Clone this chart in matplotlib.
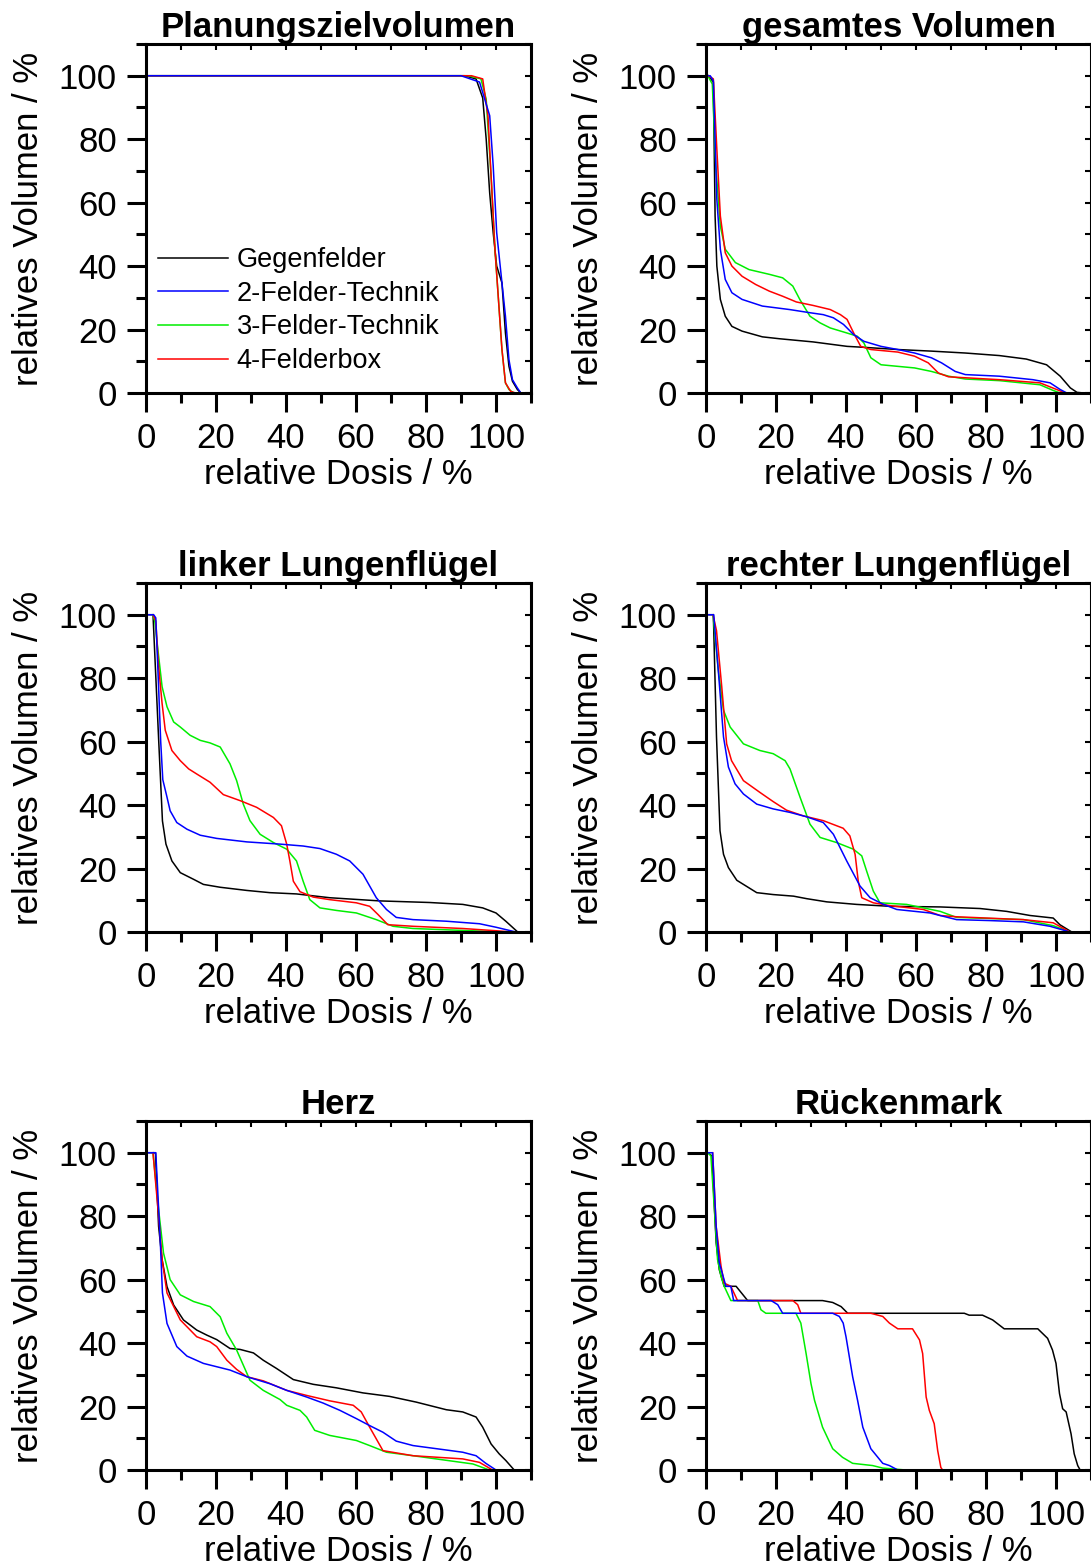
import matplotlib
matplotlib.use("Agg")
import matplotlib.pyplot as plt
from matplotlib.ticker import MultipleLocator, NullFormatter

plt.rcParams['font.family'] = ['Liberation Sans', 'DejaVu Sans']

## DATA (relative dose %, relative volume %) ##
labels = ["Gegenfelder", "2-Felder-Technik", "3-Felder-Technik", "4-Felderbox"]
colors = ["black", "blue", "#00ee00", "red"]
titles = ["Planungszielvolumen", "gesamtes Volumen", "linker Lungenflügel",
          "rechter Lungenflügel", "Herz", "Rückenmark"]

# Planungszielvolumen
ptv_gegen_d = [0, 91, 94.3, 96.2, 97.2, 98.2, 99.2, 100.2, 101.7, 102.7, 103.7, 104.7, 106.1, 107.1]
ptv_gegen_v = [100, 100, 99, 93, 80, 63, 50.5, 40, 34.7, 18.9, 8.4, 3.7, 1.1, 0]
ptv_2f_d = [0, 90, 95.3, 98.2, 99.2, 100.2, 101.2, 102.7, 103.7, 104.7, 106.1, 107.1]
ptv_2f_v = [100, 100, 98, 87.4, 71.6, 50.5, 40, 24.2, 10.5, 4.2, 1.6, 0]
ptv_3f_d = [0, 92, 95.7, 97.2, 98.7, 99.7, 100.7, 101.7, 102.7, 103.7, 105.1]
ptv_3f_v = [100, 100, 99, 92.6, 66.3, 45.3, 29.5, 13.7, 3.2, 1.1, 0]
ptv_4f_d = [0, 93, 96.2, 97.7, 98.7, 99.7, 100.7, 101.7, 102.7, 104.2, 105.6]
ptv_4f_v = [100, 100, 99, 87.4, 66.3, 45.3, 29.5, 13.7, 3.2, 0.5, 0]

# gesamtes Volumen
ges_gegen_d = [0.7, 2.1, 2.6, 3.1, 4.1, 5.5, 7.4, 10.3, 16.1, 21, 30.6, 40.3, 45.1, 54.8, 64.4,
               74.1, 83.8, 91.5, 97.3, 101.2, 104.1, 106, 108]
ges_gegen_v = [100, 98, 55.8, 40, 29.5, 24.2, 21, 19.5, 17.7, 17.1, 16.1, 14.7, 14.4, 13.7, 13.2,
               12.6, 11.8, 10.7, 8.9, 5.3, 1.6, 0.2, 0]
ges_2f_d = [0.7, 1.2, 2.1, 3.1, 4.1, 5.5, 7.4, 10.3, 16.1, 23.9, 29.7, 33.5, 36.4, 39.3, 42.2, 45.1,
            50, 54.8, 59.6, 64.4, 67.3, 71.2, 74.1, 83.8, 93.4, 98.3, 101.2, 103.1]
ges_2f_v = [100, 100, 98.4, 61, 45.3, 35.8, 31.6, 29.5, 27.4, 26.3, 25.3, 24.7, 23.7, 21.6, 18.4, 16.3,
            14.7, 13.7, 12.6, 11.1, 9.5, 6.8, 5.8, 5.3, 4.2, 3.2, 1.1, 0]
ges_3f_d = [0.5, 1.8, 2.8, 4.1, 5.5, 8.4, 12.3, 18.1, 21.9, 24.8, 26.8, 29.7, 32.6, 35.5, 40.3, 43.2,
            45.1, 47.1, 50, 54.8, 59.6, 64.4, 69.3, 74.1, 83.8, 95.4, 99.2, 101.2]
ges_3f_v = [100, 97.4, 71.6, 52.6, 45.3, 41.1, 38.9, 37.4, 36.3, 33.7, 29.5, 24.2, 22.1, 20.5, 18.9, 17.9,
            15.8, 11.1, 8.9, 8.4, 7.9, 6.8, 5.3, 4.4, 3.9, 2.6, 0.8, 0]
ges_4f_d = [0.7, 2.1, 3.1, 4.1, 5.5, 7.4, 10.3, 14.2, 18.1, 21.9, 25.8, 30.6, 35.5, 38.4, 40.3, 42.2,
            44.2, 47.1, 54.8, 59.6, 63.5, 66.4, 69.3, 83.8, 95.4, 100.2, 102.6]
ges_4f_v = [100, 99, 76.8, 55.8, 44.2, 40, 36.8, 34.2, 32.1, 30.5, 28.7, 27.6, 26.3, 24.7, 23.2, 18.9,
            14.7, 13.7, 12.9, 11.6, 9.5, 6.3, 5.1, 4.2, 3.2, 1.1, 0]

# linker Lungenfluegel
lli_gegen_d = [0.8, 2.0, 3.6, 4.7, 5.7, 7.4, 9.8, 13.6, 16.4, 21.2, 28.8, 35.4, 43, 52.5, 66.8, 81,
               90.5, 96.2, 100, 102.8, 106.2]
lli_gegen_v = [100, 100, 61, 35, 27.7, 22.4, 18.7, 16.6, 15, 14.1, 13.1, 12.4, 12, 10.8, 9.8, 9.3,
               8.7, 7.6, 6, 3.4, 0]
lli_2f_d = [0.8, 2.2, 2.8, 3.5, 4.2, 4.8, 6.0, 6.9, 8.8, 11.7, 15.5, 20.2, 28.8, 38.3, 44.9, 49.7,
            54.4, 58.2, 62, 65.8, 68.7, 71.5, 76.3, 85.8, 95.3, 100, 105.7]
lli_2f_v = [100, 100, 99, 80, 60, 48, 42.5, 38.2, 34.5, 32.4, 30.5, 29.5, 28.4, 27.7, 27.1, 26.3,
            24.5, 22.4, 18.2, 10.8, 7.1, 4.6, 3.9, 3.4, 2.6, 1.5, 0]
lli_3f_d = [1.9, 2.5, 3.5, 4.6, 6.0, 7.9, 9.8, 12.6, 15.5, 18.3, 21.2, 24.0, 25.9, 27.8, 29.7, 32.6,
            36.4, 40.2, 43, 44.9, 46.8, 49.7, 54.4, 60.1, 65.8, 70.6, 76.3, 90.5, 101.9]
lli_3f_v = [100, 98, 88, 77.3, 71, 66.2, 64.6, 62, 60.4, 59.6, 58.3, 53, 47.7, 40.3, 35.1, 30.8,
            28.2, 26.1, 22.4, 16, 10.2, 7.6, 6.8, 6.0, 3.9, 1.8, 1.1, 0.5, 0]
lli_4f_d = [2.0, 2.8, 3.5, 4.6, 5.5, 7.4, 9.8, 12.2, 14.5, 18.3, 22.1, 26.9, 31.6, 36.4, 38.7, 40.2,
            41.1, 42.1, 44, 47.8, 52.5, 60.1, 63.9, 66.3, 69.1, 76.3, 90.5, 100, 104.7]
lli_4f_v = [100, 98, 85, 72, 63.6, 57.2, 54, 51.4, 49.8, 47.2, 43.3, 41.4, 39.3, 36.1, 33.5, 27.7,
            22.4, 16, 12.7, 11, 10.2, 9.2, 8.1, 5.5, 2.3, 1.8, 1.1, 0.4, 0]

# rechter Lungenfluegel
lre_gegen_d = [0.8, 2.1, 3.0, 4.0, 5.0, 6.4, 8.8, 10.7, 14.5, 19.2, 25, 28.8, 34.5, 43, 52.6, 66.9,
               78.3, 85.9, 92.6, 99.2, 101.1, 104.5]
lre_gegen_v = [100, 100, 61.5, 31.9, 24.5, 20.3, 16.3, 15, 12.4, 11.8, 11.3, 10.5, 9.5, 8.7, 8.1, 7.9,
               7.4, 6.5, 5.2, 4.4, 2.3, 0]
lre_2f_d = [0.8, 2.2, 3.5, 5.0, 6.4, 8.3, 10.7, 14.5, 19.2, 24, 28.8, 33.5, 36.4, 40.2, 44, 46.9,
            50.7, 54.5, 64, 71.6, 81.1, 90.7, 98.3, 104]
lre_2f_v = [100, 100, 82.6, 61.5, 52, 46.7, 43.5, 40.3, 38.8, 37.7, 36.3, 34.5, 30.8, 22.4, 14.5, 10.8,
            8.7, 7.1, 6.0, 3.9, 3.6, 3.2, 1.8, 0]
lre_3f_d = [2.0, 3.5, 5.0, 6.9, 10.7, 15.4, 19.2, 22.6, 24, 26.9, 29.7, 32.6, 37.3, 42.1, 44.5, 45.9,
            47.8, 49.7, 57.3, 66.9, 71.6, 90.7, 99.2, 104]
lre_3f_v = [100, 82.6, 69.9, 64.6, 59.3, 57.2, 56.2, 54, 51.4, 42.4, 34, 29.8, 28.2, 26.1, 24, 19.2,
            12.9, 9.2, 8.7, 6.5, 4.6, 3.9, 2.0, 0]
lre_4f_d = [2.0, 3.0, 4.5, 5.9, 7.3, 10.7, 15.4, 19.2, 23, 27.8, 33.5, 39.2, 41.1, 42.6, 43.5, 44.5,
            47.8, 52.6, 62.1, 66.9, 71.6, 90.7, 99.2, 104]
lre_4f_v = [100, 95, 77.3, 59.3, 54, 47.7, 44, 41.1, 38.4, 36.6, 35.1, 32.7, 30.3, 24.5, 16, 10.8,
            9.2, 8.3, 7.1, 5.2, 4.8, 3.9, 2.9, 0]

# Herz
herz_gegen_d = [0.8, 2.7, 3.6, 4.6, 6.0, 7.9, 10.7, 14.5, 17.4, 20.2, 24, 26.9, 30.7, 33.5, 37.3, 42.1,
                47.8, 54.4, 62, 69.6, 77.2, 85.8, 90.5, 94.3, 96.2, 98.6, 100.9, 102.8, 105.2]
herz_gegen_v = [100, 100, 76.8, 66.3, 57.8, 52, 47.3, 44.1, 42.5, 41.1, 38.3, 38, 36.9, 34.6, 32, 28.5,
                27, 25.9, 24.3, 23.2, 21.4, 19, 18.3, 16.7, 13.5, 8.2, 5.1, 3, 0]
herz_2f_d = [0.8, 2.8, 4.1, 4.7, 6.0, 8.8, 11.7, 16.4, 24, 28.8, 35.4, 40.2, 45.9, 50.6, 55.4, 60.1,
             63.9, 67.7, 71.5, 76.3, 85.8, 90.5, 94.3, 97.1, 100]
herz_2f_v = [100, 100, 71.6, 55.8, 46.2, 38.9, 35.9, 33.6, 31.5, 29.4, 27.2, 25.1, 23, 21.1, 18.8, 16.2,
             14, 11.9, 9.1, 7.7, 6.3, 5.6, 4.5, 2.1, 0]
herz_3f_d = [2.0, 3.6, 5.0, 6.9, 9.8, 13.6, 18.3, 21.2, 23.1, 25.9, 29.7, 33.5, 38.3, 40.2, 44, 45.9,
             48.2, 52.5, 60.1, 63.9, 68.7, 76.3, 93.4, 98.1]
herz_3f_v = [100, 82.1, 68.4, 60, 55.2, 53.1, 51.5, 48.3, 43.1, 37.8, 28.3, 25.1, 22.2, 20.4, 18.8, 16.7,
             12.5, 10.9, 9.3, 7.7, 5.6, 4.5, 1.9, 0]
herz_4f_d = [2.0, 3.6, 4.6, 6.0, 9.8, 14.5, 18.3, 20.2, 23.1, 25.9, 28.8, 33.5, 40.2, 45.9, 52.5, 59.2,
             61.5, 63.9, 67.7, 76.3, 90.5, 95.3, 99]
herz_4f_v = [100, 80, 66.3, 55.8, 47.3, 42, 40.4, 38.9, 34.6, 31.7, 29.4, 28.1, 25.1, 23.5, 21.8, 20.4,
             18.3, 13.5, 6.1, 4.5, 3.5, 2.4, 0]

# Rueckenmark
rm_gegen_d = [0.5, 1.7, 2.9, 3.8, 5.2, 8.6, 11.9, 33.3, 36.2, 38.6, 40.5, 73.8, 75.2, 79, 81.9, 85.2,
              94.8, 97.6, 99, 100, 101, 101.9, 102.9, 104.3, 105.2, 106.2, 106.9]
rm_gegen_v = [100, 99, 71.6, 63.1, 57.9, 57.9, 53.4, 53.4, 52.8, 51.5, 49.4, 49.4, 48.8, 48.8, 47.3, 44.5,
              44.5, 41.5, 37.8, 33.6, 24.1, 19.3, 18.3, 11.4, 5.1, 1.4, 0]
rm_2f_d = [0.5, 1.9, 2.9, 3.8, 5.7, 7.1, 7.9, 18.6, 20.5, 21.9, 36.2, 38.1, 39.2, 40, 41.9, 43.3,
           44.8, 47.1, 50.5, 52.4, 54.8]
rm_2f_v = [100, 100, 76.8, 65.3, 57.9, 57.9, 53.4, 53.4, 52.1, 49.4, 49.4, 48.4, 46.3, 42, 29.4, 22,
           13.5, 6.7, 2.1, 1.4, 0]
rm_3f_d = [0.5, 1.4, 2.4, 3.3, 4.3, 5.2, 7.1, 14.8, 15.7, 17.1, 25.7, 27.1, 28.6, 30, 31, 33.3,
           36.2, 39, 41.9, 47.6, 50.5, 57.1]
rm_3f_v = [100, 99, 82, 66.3, 61, 57.9, 53.4, 53.4, 50.5, 49.4, 49.4, 46.3, 36.7, 27.2, 22, 13.5,
           6.7, 4, 2.1, 1.4, 0.6, 0]
rm_4f_d = [1.9, 2.9, 4.3, 5.2, 7.1, 9, 24.8, 26.2, 27.1, 47.1, 50.5, 52.4, 54.8, 59, 61, 61.9,
           62.9, 63.8, 65.2, 66.2, 67.1, 67.6]
rm_4f_v = [100, 76.8, 64.2, 58.9, 57.9, 53.4, 53.4, 52.1, 49.4, 49.4, 48.4, 46.3, 44.5, 44.5, 41, 36.7,
           23, 18.8, 14.6, 6.1, 0.8, 0]

panels = [
    [(ptv_gegen_d, ptv_gegen_v), (ptv_2f_d, ptv_2f_v), (ptv_3f_d, ptv_3f_v), (ptv_4f_d, ptv_4f_v)],
    [(ges_gegen_d, ges_gegen_v), (ges_2f_d, ges_2f_v), (ges_3f_d, ges_3f_v), (ges_4f_d, ges_4f_v)],
    [(lli_gegen_d, lli_gegen_v), (lli_2f_d, lli_2f_v), (lli_3f_d, lli_3f_v), (lli_4f_d, lli_4f_v)],
    [(lre_gegen_d, lre_gegen_v), (lre_2f_d, lre_2f_v), (lre_3f_d, lre_3f_v), (lre_4f_d, lre_4f_v)],
    [(herz_gegen_d, herz_gegen_v), (herz_2f_d, herz_2f_v), (herz_3f_d, herz_3f_v), (herz_4f_d, herz_4f_v)],
    [(rm_gegen_d, rm_gegen_v), (rm_2f_d, rm_2f_v), (rm_3f_d, rm_3f_v), (rm_4f_d, rm_4f_v)],
]

## LAYOUT (pixels) ##
W, H = 1091, 1568
fig = plt.figure(figsize=(W / 100, H / 100), dpi=100)
col_left = [146, 706]
row_top = [44, 583, 1121]
ax_w, ax_h = 385, 349

# draw order: black, green, red, blue on top
draw_order = [0, 2, 3, 1]

for i, series in enumerate(panels):
    r, c = divmod(i, 2)
    ax = fig.add_axes([col_left[c] / W, 1 - (row_top[r] + ax_h) / H, ax_w / W, ax_h / H])
    handles = {}
    for k in draw_order:
        d, v = series[k]
        ln, = ax.plot(d, v, color=colors[k], lw=1.1, label=labels[k])
        handles[k] = ln
    ax.set_xlim(0, 110)
    ax.set_ylim(0, 110)
    ax.xaxis.set_minor_locator(MultipleLocator(10))
    ax.yaxis.set_minor_locator(MultipleLocator(10))
    ax.set_xticks([0, 20, 40, 60, 80, 100])
    ax.set_yticks([0, 20, 40, 60, 80, 100])
    ax.tick_params(which='major', direction='out', length=14, width=2.2, labelsize=25, pad=7)
    ax.tick_params(which='minor', direction='out', length=7, width=2.2)
    for s in ax.spines.values():
        s.set_linewidth(2.2)
    # small ticks on top and right
    sx = ax.secondary_xaxis('top')
    sx.xaxis.set_major_locator(MultipleLocator(10))
    sx.xaxis.set_major_formatter(NullFormatter())
    sx.tick_params(direction='in', length=4, width=1.5)
    sy = ax.secondary_yaxis('right')
    sy.yaxis.set_major_locator(MultipleLocator(10))
    sy.yaxis.set_major_formatter(NullFormatter())
    sy.tick_params(direction='in', length=4, width=1.5)

    ax.set_xlabel('relative Dosis / %', fontsize=25, labelpad=2)
    ax.set_ylabel('relatives Volumen / %', fontsize=25, labelpad=10)
    ax.set_title(titles[i], fontsize=25, fontweight='bold', pad=2)

    if i == 0:
        ax.legend([handles[k] for k in range(4)], labels, loc='center left',
                  bbox_to_anchor=(0.031, 0.236), frameon=False, fontsize=19.5,
                  handlelength=2.6, handletextpad=0.3, labelspacing=0.28,
                  borderpad=0, borderaxespad=0)

fig.savefig('out.png', dpi=100)
